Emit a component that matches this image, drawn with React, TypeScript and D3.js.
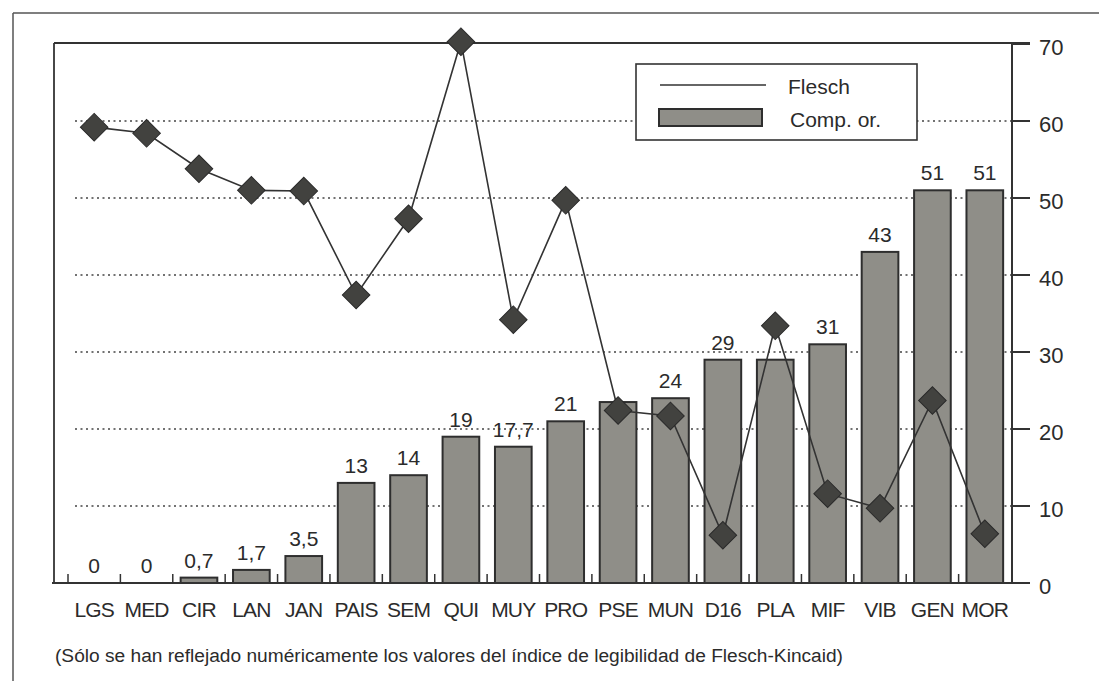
import React from "react";
import * as d3 from "d3";

const categories = ["LGS","MED","CIR","LAN","JAN","PAIS","SEM","QUI","MUY","PRO","PSE","MUN","D16","PLA","MIF","VIB","GEN","MOR"];
const compValues = [0,0,0.7,1.7,3.5,13,14,19,17.7,21,23.5,24,29,29,31,43,51,51];
const compLabels = ["0","0","0,7","1,7","3,5","13","14","19","17,7","21","","24","29","","31","43","51","51"];
const fleschValues = [59.2,58.4,53.8,51,50.9,37.4,47.3,70.3,34.2,49.7,22.4,21.7,6.2,33.4,11.6,9.7,23.7,6.4];
const yTicks = [0,10,20,30,40,50,60,70];
const gridValues = [10,20,30,40,50,60];
const legendItems = ["Flesch","Comp. or."];
const footnote = "(Sólo se han reflejado numéricamente los valores del índice de legibilidad de Flesch-Kincaid)";

const W = 1099, H = 681;
const FONT = "'Liberation Sans', Arial, sans-serif";
const INK = "#2b2b2b";

export default function App() {
  const x = d3.scaleBand<string>().domain(categories).range([68, 1011]).paddingInner(0.3).paddingOuter(0.15);
  const y = d3.scaleLinear().domain([0, 70]).range([583, 44]);
  const step = x.step();
  const off = (step - x.bandwidth()) / 2;
  const axisX = 1012;
  const cx = (c: string) => (x(c) as number) + x.bandwidth() / 2;

  const line = d3.line<number>()
    .x((_, i) => cx(categories[i]))
    .y(v => y(v));

  const diamond = d3.symbol().type(d3.symbolSquare).size(380)();

  const legend = { x: 636, y: 64, w: 281, h: 76 };

  return (
    <svg width={W} height={H} style={{ position: "absolute", left: 0, top: 0, background: "#fff" }}>
      {/* outer frame */}
      <line x1={13} y1={13} x2={W} y2={13} stroke="#555" strokeWidth={1.5} />
      <line x1={13} y1={13} x2={13} y2={H} stroke="#555" strokeWidth={1.5} />

      {/* gridlines */}
      {gridValues.map(v => (
        <line key={"g" + v} x1={75} x2={axisX} y1={y(v)} y2={y(v)} stroke="#444" strokeWidth={1.6} strokeDasharray="2,3.5" />
      ))}

      {/* plot frame */}
      <line x1={54} y1={y(70) - 1} x2={axisX + 18} y2={y(70) - 1} stroke="#333" strokeWidth={1.8} />
      <line x1={54} y1={y(70) - 1} x2={54} y2={y(0)} stroke="#333" strokeWidth={1.8} />

      {/* bars */}
      {categories.map((c, i) => {
        const v = compValues[i];
        if (v <= 0) return null;
        return (
          <rect key={"b" + c} x={x(c)} y={y(v)} width={x.bandwidth()} height={y(0) - y(v)}
            fill="#8f8e88" stroke="#2e2e2e" strokeWidth={2} />
        );
      })}

      {/* bar value labels */}
      {categories.map((c, i) => compLabels[i] ? (
        <text key={"l" + c} x={cx(c)} y={y(compValues[i]) - 10} textAnchor="middle"
          fontFamily={FONT} fontSize={21} fill={INK}>{compLabels[i]}</text>
      ) : null)}

      {/* x axis */}
      <line x1={52} x2={axisX + 18} y1={y(0)} y2={y(0)} stroke="#333" strokeWidth={2} />
      {categories.map(c => (
        <line key={"t" + c} x1={(x(c) as number) - off} x2={(x(c) as number) - off} y1={y(0)} y2={y(0) - 9} stroke="#333" strokeWidth={1.5} />
      ))}
      {categories.map(c => (
        <text key={"c" + c} x={cx(c)} y={617} textAnchor="middle" fontFamily={FONT} fontSize={21}
          letterSpacing={-0.8} fill={INK}>{c}</text>
      ))}

      {/* right axis */}
      <line x1={axisX} x2={axisX} y1={y(70) - 1} y2={y(0)} stroke="#333" strokeWidth={2} />
      {yTicks.map(t => (
        <g key={"y" + t}>
          <line x1={axisX} x2={axisX + 18} y1={y(t)} y2={y(t)} stroke="#333" strokeWidth={2} />
          <text x={1039} y={y(t) + 11} fontFamily={FONT} fontSize={22} fill={INK}>{t}</text>
        </g>
      ))}

      {/* Flesch line */}
      <path d={line(fleschValues) || ""} fill="none" stroke="#333" strokeWidth={1.6} />
      {categories.map((c, i) => (
        <path key={"d" + c} d={diamond || ""} transform={`translate(${cx(c)},${y(fleschValues[i])}) rotate(45)`}
          fill="#42423f" stroke="#2a2a2a" strokeWidth={1} />
      ))}

      {/* legend */}
      <rect x={legend.x} y={legend.y} width={legend.w} height={legend.h} fill="#fff" stroke="#333" strokeWidth={1.6} />
      <line x1={660} x2={766} y1={85} y2={85} stroke="#333" strokeWidth={1.6} />
      <text x={788} y={94} fontFamily={FONT} fontSize={21} fill={INK}>{legendItems[0]}</text>
      <rect x={659} y={109} width={103} height={17} fill="#8f8e88" stroke="#2e2e2e" strokeWidth={2} />
      <text x={790} y={127} fontFamily={FONT} fontSize={21} fill={INK}>{legendItems[1]}</text>

      {/* footnote */}
      <text x={55} y={662} fontFamily={FONT} fontSize={18} fill={INK} textLength={788} lengthAdjust="spacingAndGlyphs">{footnote}</text>
    </svg>
  );
}
